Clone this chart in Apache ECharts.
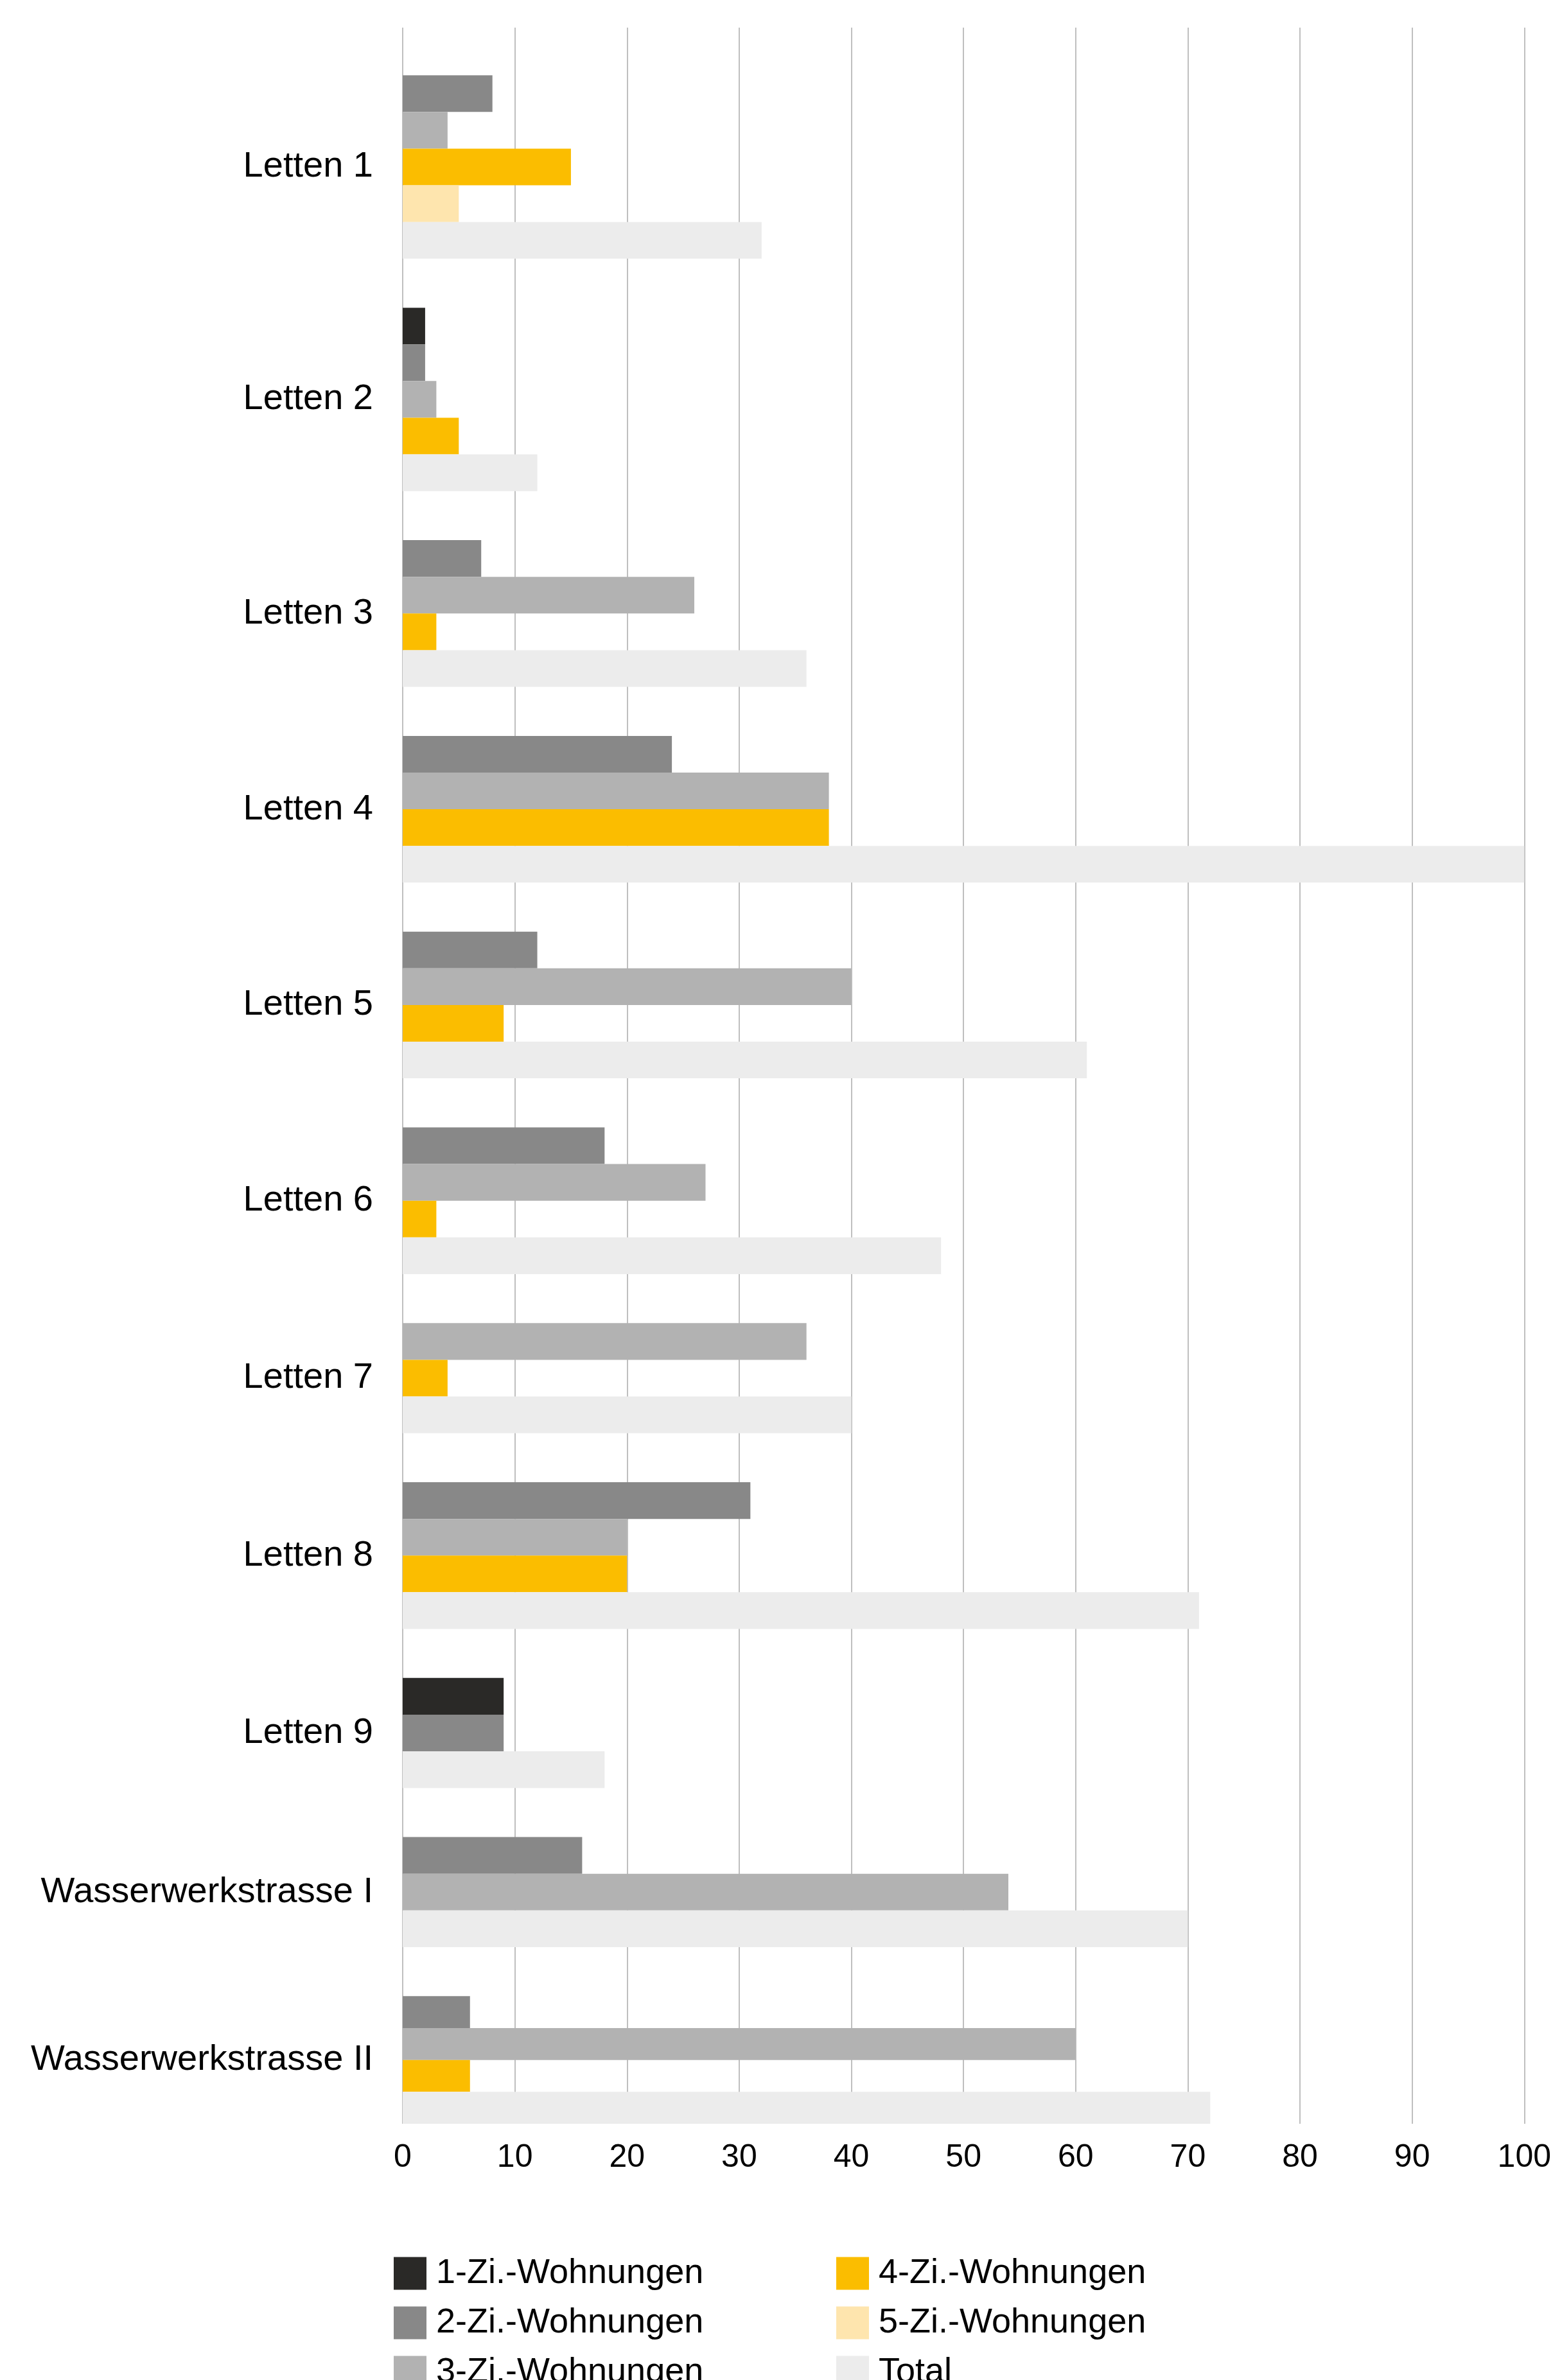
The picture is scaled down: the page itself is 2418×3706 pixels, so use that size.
<!DOCTYPE html>
<html>
<head>
<meta charset="utf-8">
<script src="https://cdn.jsdelivr.net/npm/echarts@6/dist/echarts.min.js"></script>
<style>
html,body{margin:0;padding:0;background:#fff;}
#chart{width:2418px;height:3706px;}
</style>
</head>
<body>
<div id="chart"></div>
<script>
// ---- data ----
const categories = ['Letten 1','Letten 2','Letten 3','Letten 4','Letten 5','Letten 6','Letten 7','Letten 8','Letten 9','Wasserwerkstrasse I','Wasserwerkstrasse II'];
const seriesNames = ['1-Zi.-Wohnungen','2-Zi.-Wohnungen','3-Zi.-Wohnungen','4-Zi.-Wohnungen','5-Zi.-Wohnungen','Total'];
const zi1   = [null, 2, null, null, null, null, null, null, 9, null, null];
const zi2   = [8, 2, 7, 24, 12, 18, null, 31, 9, 16, 6];
const zi3   = [4, 3, 26, 38, 40, 27, 36, 20, null, 54, 60];
const zi4   = [15, 5, 3, 38, 9, 3, 4, 20, null, null, 6];
const zi5   = [5, null, null, null, null, null, null, null, null, null, null];
const total = [32, 12, 36, 100, 61, 48, 40, 71, 18, 70, 72];
const xTicks = [0, 100, 10]; // min, max, interval

// ---- layout (in bar-slot units along the category axis) ----
const allSeries = [zi1, zi2, zi3, zi4, zi5, total];
const colors = ['#2a2927', '#888888', '#b2b2b2', '#fbbd00', '#fee5ae', '#ececec'];
const TOP_PAD = 1.3, GAP = 1.338, AXIS_MAX = 57.16;

const seriesData = allSeries.map(() => []);
const centers = [];
const labelMap = {};
let pos = TOP_PAD;
categories.forEach((cat, ci) => {
  const present = [];
  allSeries.forEach((arr, si) => { if (arr[ci] != null) present.push(si); });
  const n = present.length;
  const thick = Math.min(1, (AXIS_MAX - pos) / n);
  const start = pos;
  present.forEach((si, k) => {
    const y0 = start + k * thick;
    seriesData[si].push([allSeries[si][ci], y0, y0 + thick, ci]);
  });
  const c = start + n * thick / 2;
  centers.push(c);
  labelMap[c.toFixed(4)] = cat;
  pos = start + n * thick + GAP;
});

function renderBar(params, api) {
  const p0 = api.coord([0, api.value(1)]);
  const p1 = api.coord([api.value(0), api.value(2)]);
  return {
    type: 'rect',
    shape: { x: p0[0], y: p0[1], width: p1[0] - p0[0], height: p1[1] - p0[1] },
    style: api.style()
  };
}

const chart = echarts.init(document.getElementById('chart'), null, { renderer: 'canvas' });
const FONT = '"Liberation Sans", Arial, sans-serif';

const legendBase = {
  orient: 'vertical', top: 3508, height: 260,
  itemWidth: 51, itemHeight: 51, itemGap: 23, icon: 'rect',
  textStyle: { fontSize: 54, color: '#000', fontFamily: FONT, lineHeight: 51, padding: [0, 0, 0, 10] },
  selectedMode: false
};

const option = {
  animation: false,
  backgroundColor: '#ffffff',
  color: colors,
  textStyle: { fontFamily: FONT, color: '#000' },
  grid: { left: 627, right: 43, top: 43, bottom: 399, containLabel: false },
  xAxis: {
    type: 'value',
    min: xTicks[0], max: xTicks[1], interval: xTicks[2],
    axisLine: { show: false },
    axisTick: { show: false },
    splitLine: { show: true, lineStyle: { color: '#bfbfbf', width: 2 } },
    axisLabel: { fontSize: 50, color: '#000', fontFamily: FONT, margin: 28 }
  },
  yAxis: {
    type: 'value',
    min: 0, max: AXIS_MAX, inverse: true,
    axisLine: { show: false },
    axisTick: { show: false },
    splitLine: { show: false },
    axisLabel: {
      customValues: centers,
      fontSize: 56, color: '#000', fontFamily: FONT, margin: 46,
      formatter: v => labelMap[Number(v).toFixed(4)] || ''
    }
  },
  legend: [
    Object.assign({}, legendBase, { left: 608, data: seriesNames.slice(0, 3) }),
    Object.assign({}, legendBase, { left: 1297, data: seriesNames.slice(3) })
  ],
  series: seriesNames.map((name, si) => ({
    type: 'custom',
    name: name,
    renderItem: renderBar,
    itemStyle: { color: colors[si] },
    encode: { x: 0, y: [1, 2] },
    data: seriesData[si],
    z: 2
  }))
};
chart.setOption(option);
</script>
</body>
</html>
